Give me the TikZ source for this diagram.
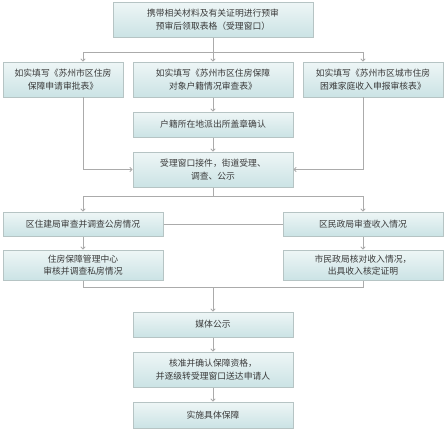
\documentclass[tikz,border=0pt]{standalone}
\usepackage{fontspec}
\newfontfamily\cjk{Noto Sans CJK SC}
\usetikzlibrary{arrows.meta,calc}
\definecolor{boxtop}{HTML}{EEF6F6}
\definecolor{boxbot}{HTML}{CBE3E5}
\definecolor{boxline}{HTML}{B6C4C4}
\definecolor{conn}{HTML}{ABABAB}
\definecolor{txt}{HTML}{3A3A3A}
\tikzset{
  flowbox/.style={rectangle, draw=boxline, line width=1pt, top color=boxtop, bottom color=boxbot,
    align=center, text=txt, font=\cjk\fontsize{8.8}{12.5}\selectfont, inner sep=0pt},
  conline/.style={draw=conn, line width=0.9pt},
  conarrow/.style={conline, -{To[length=3pt,width=5pt]}},
}
\begin{document}
\begin{tikzpicture}[x=1pt,y=-1pt]
\useasboundingbox (0,0) rectangle (448,429);
\node[flowbox, minimum width=200pt, minimum height=35pt] (top) at (213,19.5) {携带相关材料及有关证明进行预审\\预审后领取表格（受理窗口）};
\node[flowbox, minimum width=120pt, minimum height=35pt] (L2) at (63,79.5) {如实填写《苏州市区住房\\保障申请审批表》};
\node[flowbox, minimum width=160pt, minimum height=35pt] (M2) at (213,79.5) {如实填写《苏州市区住房保障\\对象户籍情况审查表》};
\node[flowbox, minimum width=140pt, minimum height=35pt] (R2) at (373,79.5) {如实填写《苏州市区城市住房\\困难家庭收入申报审核表》};
\node[flowbox, minimum width=160pt, minimum height=25pt] (M3) at (213,124.5) {户籍所在地派出所盖章确认};
\node[flowbox, minimum width=160pt, minimum height=35pt] (M4) at (213,169.5) {受理窗口接件，街道受理、\\调查、公示};
\node[flowbox, minimum width=160pt, minimum height=24pt] (L5) at (83,224) {区住建局审查并调查公房情况};
\node[flowbox, minimum width=160pt, minimum height=24pt] (R5) at (363,224) {区民政局审查收入情况};
\node[flowbox, minimum width=160pt, minimum height=30pt] (L6) at (83,265) {住房保障管理中心\\审核并调查私房情况};
\node[flowbox, minimum width=160pt, minimum height=30pt] (R6) at (363,265) {市民政局核对收入情况，\\出具收入核定证明};
\node[flowbox, minimum width=160pt, minimum height=25pt] (M7) at (213,324.5) {媒体公示};
\node[flowbox, minimum width=160pt, minimum height=35pt] (M8) at (213,369.5) {核准并确认保障资格，\\并逐级转受理窗口送达申请人};
\node[flowbox, minimum width=160pt, minimum height=26pt] (M9) at (213,415) {实施具体保障};

\coordinate (s1) at (213,52);
\coordinate (s1l) at (83,52);
\coordinate (s1r) at (363,52);
\draw[conline] (top.south) -- (s1);
\draw[conline] (s1l) -- (s1r);
\draw[conarrow] (s1l) -- (s1l |- L2.north);
\draw[conarrow] (s1) -- (M2.north);
\draw[conarrow] (s1r) -- (s1r |- R2.north);
\draw[conarrow] (M2) -- (M3);
\draw[conarrow] (M3) -- (M4);
\coordinate (l2b) at (83,97);
\coordinate (r2b) at (363,97);
\draw[conarrow] (l2b) |- (M4.west);
\draw[conarrow] (r2b) |- (M4.east);
\coordinate (s4) at (213,196);
\coordinate (s4l) at (83,196);
\coordinate (s4r) at (363,196);
\draw[conline] (M4.south) -- (s4);
\draw[conline] (s4l) -- (s4r);
\draw[conarrow] (s4l) -- (L5.north);
\draw[conarrow] (s4r) -- (R5.north);
\draw[conline] (L5) -- (R5);
\draw[conarrow] (L5) -- (L6);
\draw[conarrow] (R5) -- (R6);
\coordinate (s6) at (213,287);
\draw[conline] (L6.south) -- (L6.south |- s6) -- (R6.south |- s6) -- (R6.south);
\draw[conarrow] (s6) -- (M7.north);
\draw[conarrow] (M7) -- (M8);
\draw[conarrow] (M8) -- (M9);
\end{tikzpicture}
\end{document}
